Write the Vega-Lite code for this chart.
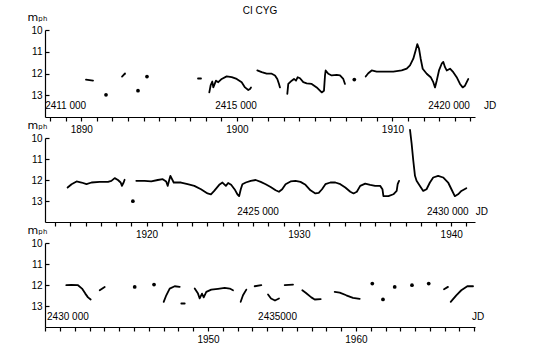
{
  "$schema": "https://vega.github.io/schema/vega-lite/v6.json",
  "background": "white",
  "padding": {"left": 27, "top": 6, "right": 5, "bottom": 5},
  "config": {
    "view": {"stroke": null},
    "font": "Liberation Sans",
    "axis": {"domainColor": "black", "tickColor": "black", "labelColor": "black", "labelFontSize": 10, "labelFont": "Liberation Sans", "grid": false, "domainWidth": 1.2, "tickWidth": 1.2, "labelOverlap": false, "labelFlush": false, "labelBound": false},
    "axisX": {"tickSize": 4, "labelPadding": 3, "labelExpr": "(round((datum.value - 2415020.5) / 365.25) + 1900) % 10 == 0 ? '' + (round((datum.value - 2415020.5) / 365.25) + 1900) : ''"},
    "axisY": {"tickSize": -4, "labelPadding": 7},
    "text": {"font": "Liberation Sans", "fontSize": 10, "color": "black"}
  },
  "spacing": 21,
  "bounds": "flush",
  "datasets": {
    "curves": [
      {"p":1,"s":"1a","jd":2411478,"m":12.28},{"p":1,"s":"1a","jd":2411643,"m":12.33},
      {"p":1,"s":"1b","jd":2412324,"m":12.14},{"p":1,"s":"1b","jd":2412394,"m":12.00},
      {"p":1,"s":"1c","jd":2414108,"m":12.23},{"p":1,"s":"1c","jd":2414178,"m":12.23},
      {"p":1,"s":"1d","jd":2414373,"m":12.87},{"p":1,"s":"1d","jd":2414406,"m":12.53},{"p":1,"s":"1d","jd":2414443,"m":12.37},{"p":1,"s":"1d","jd":2414467,"m":12.64},{"p":1,"s":"1d","jd":2414530,"m":12.33},{"p":1,"s":"1d","jd":2414584,"m":12.40},{"p":1,"s":"1d","jd":2414664,"m":12.25},{"p":1,"s":"1d","jd":2414781,"m":12.13},{"p":1,"s":"1d","jd":2414899,"m":12.17},{"p":1,"s":"1d","jd":2415016,"m":12.25},{"p":1,"s":"1d","jd":2415133,"m":12.40},{"p":1,"s":"1d","jd":2415211,"m":12.64},{"p":1,"s":"1d","jd":2415288,"m":12.76},{"p":1,"s":"1d","jd":2415328,"m":12.71},{"p":1,"s":"1d","jd":2415352,"m":12.64},
      {"p":1,"s":"1e","jd":2415500,"m":11.86},{"p":1,"s":"1e","jd":2415603,"m":11.94},{"p":1,"s":"1e","jd":2415720,"m":12.01},{"p":1,"s":"1e","jd":2415838,"m":12.01},{"p":1,"s":"1e","jd":2415915,"m":12.09},{"p":1,"s":"1e","jd":2415969,"m":12.25},{"p":1,"s":"1e","jd":2416009,"m":12.48},{"p":1,"s":"1e","jd":2416032,"m":12.64},
      {"p":1,"s":"1f","jd":2416204,"m":12.94},{"p":1,"s":"1f","jd":2416227,"m":12.48},{"p":1,"s":"1f","jd":2416307,"m":12.33},{"p":1,"s":"1f","jd":2416361,"m":12.25},{"p":1,"s":"1f","jd":2416408,"m":12.33},{"p":1,"s":"1f","jd":2416448,"m":12.17},{"p":1,"s":"1f","jd":2416502,"m":12.22},{"p":1,"s":"1f","jd":2416579,"m":12.40},{"p":1,"s":"1f","jd":2416659,"m":12.45},{"p":1,"s":"1f","jd":2416777,"m":12.48},{"p":1,"s":"1f","jd":2416894,"m":12.64},{"p":1,"s":"1f","jd":2417011,"m":12.87},{"p":1,"s":"1f","jd":2417065,"m":12.79},{"p":1,"s":"1f","jd":2417089,"m":12.09},{"p":1,"s":"1f","jd":2417105,"m":11.86},{"p":1,"s":"1f","jd":2417166,"m":12.01},{"p":1,"s":"1f","jd":2417246,"m":12.09},{"p":1,"s":"1f","jd":2417363,"m":12.06},{"p":1,"s":"1f","jd":2417441,"m":12.09},{"p":1,"s":"1f","jd":2417518,"m":12.25},{"p":1,"s":"1f","jd":2417558,"m":12.48},
      {"p":1,"s":"1g","jd":2418044,"m":12.14},{"p":1,"s":"1g","jd":2418105,"m":11.99},{"p":1,"s":"1g","jd":2418185,"m":11.86},{"p":1,"s":"1g","jd":2418302,"m":11.91},{"p":1,"s":"1g","jd":2418497,"m":11.91},{"p":1,"s":"1g","jd":2418692,"m":11.91},{"p":1,"s":"1g","jd":2418889,"m":11.86},{"p":1,"s":"1g","jd":2419007,"m":11.78},{"p":1,"s":"1g","jd":2419084,"m":11.63},{"p":1,"s":"1g","jd":2419162,"m":11.32},{"p":1,"s":"1g","jd":2419218,"m":10.93},{"p":1,"s":"1g","jd":2419255,"m":10.65},{"p":1,"s":"1g","jd":2419295,"m":10.85},{"p":1,"s":"1g","jd":2419335,"m":11.32},{"p":1,"s":"1g","jd":2419382,"m":11.78},{"p":1,"s":"1g","jd":2419476,"m":12.01},{"p":1,"s":"1g","jd":2419570,"m":12.17},{"p":1,"s":"1g","jd":2419631,"m":12.40},{"p":1,"s":"1g","jd":2419671,"m":12.64},{"p":1,"s":"1g","jd":2419711,"m":12.33},{"p":1,"s":"1g","jd":2419765,"m":11.86},{"p":1,"s":"1g","jd":2419828,"m":11.55},{"p":1,"s":"1g","jd":2419866,"m":11.47},{"p":1,"s":"1g","jd":2419906,"m":11.71},{"p":1,"s":"1g","jd":2419946,"m":11.86},{"p":1,"s":"1g","jd":2420023,"m":11.78},{"p":1,"s":"1g","jd":2420100,"m":11.94},{"p":1,"s":"1g","jd":2420180,"m":12.17},{"p":1,"s":"1g","jd":2420258,"m":12.48},{"p":1,"s":"1g","jd":2420321,"m":12.64},{"p":1,"s":"1g","jd":2420375,"m":12.56},{"p":1,"s":"1g","jd":2420453,"m":12.25},
      {"p":2,"s":"2a","jd":2420433,"m":12.36},{"p":2,"s":"2a","jd":2420528,"m":12.20},{"p":2,"s":"2a","jd":2420648,"m":12.07},{"p":2,"s":"2a","jd":2420767,"m":12.12},{"p":2,"s":"2a","jd":2420886,"m":12.20},{"p":2,"s":"2a","jd":2421006,"m":12.12},{"p":2,"s":"2a","jd":2421204,"m":12.09},{"p":2,"s":"2a","jd":2421402,"m":12.09},{"p":2,"s":"2a","jd":2421483,"m":12.04},{"p":2,"s":"2a","jd":2421562,"m":11.91},{"p":2,"s":"2a","jd":2421640,"m":12.00},{"p":2,"s":"2a","jd":2421705,"m":12.12},{"p":2,"s":"2a","jd":2421736,"m":12.28},{"p":2,"s":"2a","jd":2421776,"m":12.12},{"p":2,"s":"2a","jd":2421800,"m":11.99},
      {"p":2,"s":"2b","jd":2422080,"m":12.04},{"p":2,"s":"2b","jd":2422278,"m":12.04},{"p":2,"s":"2b","jd":2422438,"m":12.07},{"p":2,"s":"2b","jd":2422595,"m":12.00},{"p":2,"s":"2b","jd":2422714,"m":11.96},{"p":2,"s":"2b","jd":2422796,"m":12.07},{"p":2,"s":"2b","jd":2422834,"m":12.28},{"p":2,"s":"2b","jd":2422874,"m":11.96},{"p":2,"s":"2b","jd":2422898,"m":11.80},{"p":2,"s":"2b","jd":2422977,"m":12.12},{"p":2,"s":"2b","jd":2423153,"m":12.12},{"p":2,"s":"2b","jd":2423311,"m":12.20},{"p":2,"s":"2b","jd":2423471,"m":12.28},{"p":2,"s":"2b","jd":2423631,"m":12.44},{"p":2,"s":"2b","jd":2423788,"m":12.64},{"p":2,"s":"2b","jd":2423870,"m":12.68},{"p":2,"s":"2b","jd":2423948,"m":12.52},{"p":2,"s":"2b","jd":2424068,"m":12.23},{"p":2,"s":"2b","jd":2424146,"m":12.12},{"p":2,"s":"2b","jd":2424228,"m":12.28},{"p":2,"s":"2b","jd":2424282,"m":12.14},{"p":2,"s":"2b","jd":2424354,"m":12.23},{"p":2,"s":"2b","jd":2424449,"m":12.48},{"p":2,"s":"2b","jd":2424504,"m":12.68},{"p":2,"s":"2b","jd":2424545,"m":12.77},{"p":2,"s":"2b","jd":2424585,"m":12.44},{"p":2,"s":"2b","jd":2424624,"m":12.20},{"p":2,"s":"2b","jd":2424705,"m":12.12},{"p":2,"s":"2b","jd":2424824,"m":12.04},{"p":2,"s":"2b","jd":2424943,"m":12.00},{"p":2,"s":"2b","jd":2425063,"m":12.09},{"p":2,"s":"2b","jd":2425182,"m":12.20},{"p":2,"s":"2b","jd":2425301,"m":12.33},{"p":2,"s":"2b","jd":2425421,"m":12.49},{"p":2,"s":"2b","jd":2425500,"m":12.56},{"p":2,"s":"2b","jd":2425578,"m":12.44},{"p":2,"s":"2b","jd":2425659,"m":12.20},{"p":2,"s":"2b","jd":2425779,"m":12.07},{"p":2,"s":"2b","jd":2425898,"m":12.04},{"p":2,"s":"2b","jd":2426017,"m":12.09},{"p":2,"s":"2b","jd":2426137,"m":12.23},{"p":2,"s":"2b","jd":2426256,"m":12.49},{"p":2,"s":"2b","jd":2426375,"m":12.64},{"p":2,"s":"2b","jd":2426454,"m":12.61},{"p":2,"s":"2b","jd":2426533,"m":12.44},{"p":2,"s":"2b","jd":2426614,"m":12.20},{"p":2,"s":"2b","jd":2426733,"m":12.12},{"p":2,"s":"2b","jd":2426853,"m":12.12},{"p":2,"s":"2b","jd":2426972,"m":12.20},{"p":2,"s":"2b","jd":2427091,"m":12.36},{"p":2,"s":"2b","jd":2427211,"m":12.56},{"p":2,"s":"2b","jd":2427289,"m":12.64},{"p":2,"s":"2b","jd":2427368,"m":12.56},{"p":2,"s":"2b","jd":2427449,"m":12.28},{"p":2,"s":"2b","jd":2427569,"m":12.17},{"p":2,"s":"2b","jd":2427688,"m":12.23},{"p":2,"s":"2b","jd":2427807,"m":12.28},{"p":2,"s":"2b","jd":2427927,"m":12.28},{"p":2,"s":"2b","jd":2427982,"m":12.44},{"p":2,"s":"2b","jd":2428005,"m":12.77},{"p":2,"s":"2b","jd":2428125,"m":12.77},{"p":2,"s":"2b","jd":2428244,"m":12.68},{"p":2,"s":"2b","jd":2428323,"m":12.52},{"p":2,"s":"2b","jd":2428347,"m":12.20},{"p":2,"s":"2b","jd":2428380,"m":12.04},
      {"p":2,"s":"2c","jd":2428643,"m":9.61},{"p":2,"s":"2c","jd":2428681,"m":10.26},{"p":2,"s":"2c","jd":2428721,"m":11.07},{"p":2,"s":"2c","jd":2428762,"m":11.80},{"p":2,"s":"2c","jd":2428800,"m":12.04},{"p":2,"s":"2c","jd":2428881,"m":12.28},{"p":2,"s":"2c","jd":2428960,"m":12.52},{"p":2,"s":"2c","jd":2429039,"m":12.44},{"p":2,"s":"2c","jd":2429120,"m":12.12},{"p":2,"s":"2c","jd":2429199,"m":11.88},{"p":2,"s":"2c","jd":2429318,"m":11.80},{"p":2,"s":"2c","jd":2429437,"m":11.88},{"p":2,"s":"2c","jd":2429557,"m":12.12},{"p":2,"s":"2c","jd":2429636,"m":12.44},{"p":2,"s":"2c","jd":2429717,"m":12.77},{"p":2,"s":"2c","jd":2429795,"m":12.68},{"p":2,"s":"2c","jd":2429874,"m":12.52},{"p":2,"s":"2c","jd":2429993,"m":12.39},
      {"p":3,"s":"3a","jd":2429784,"m":12.01},{"p":3,"s":"3a","jd":2429907,"m":12.00},{"p":3,"s":"3a","jd":2430073,"m":12.01},{"p":3,"s":"3a","jd":2430172,"m":12.17},{"p":3,"s":"3a","jd":2430253,"m":12.41},{"p":3,"s":"3a","jd":2430320,"m":12.59},{"p":3,"s":"3a","jd":2430386,"m":12.69},
      {"p":3,"s":"3b","jd":2430609,"m":12.25},{"p":3,"s":"3b","jd":2430732,"m":12.09},
      {"p":3,"s":"3c","jd":2432189,"m":12.80},{"p":3,"s":"3c","jd":2432253,"m":12.49},{"p":3,"s":"3c","jd":2432337,"m":12.17},{"p":3,"s":"3c","jd":2432461,"m":12.06},{"p":3,"s":"3c","jd":2432584,"m":12.09},
      {"p":3,"s":"3d","jd":2432624,"m":12.88},{"p":3,"s":"3d","jd":2432708,"m":12.88},
      {"p":3,"s":"3e","jd":2432955,"m":12.17},{"p":3,"s":"3e","jd":2433036,"m":12.41},{"p":3,"s":"3e","jd":2433078,"m":12.64},{"p":3,"s":"3e","jd":2433135,"m":12.41},{"p":3,"s":"3e","jd":2433177,"m":12.59},{"p":3,"s":"3e","jd":2433241,"m":12.33},{"p":3,"s":"3e","jd":2433364,"m":12.22},{"p":3,"s":"3e","jd":2433530,"m":12.18},{"p":3,"s":"3e","jd":2433695,"m":12.14},{"p":3,"s":"3e","jd":2433819,"m":12.17},{"p":3,"s":"3e","jd":2433900,"m":12.25},
      {"p":3,"s":"3f","jd":2434090,"m":12.80},{"p":3,"s":"3f","jd":2434147,"m":12.49},{"p":3,"s":"3f","jd":2434229,"m":12.22},
      {"p":3,"s":"3g","jd":2434436,"m":12.06},{"p":3,"s":"3g","jd":2434599,"m":12.01},
      {"p":3,"s":"3h","jd":2434765,"m":12.45},{"p":3,"s":"3h","jd":2434839,"m":12.64},{"p":3,"s":"3h","jd":2434937,"m":12.74},{"p":3,"s":"3h","jd":2435036,"m":12.64},
      {"p":3,"s":"3i","jd":2435177,"m":12.01},{"p":3,"s":"3i","jd":2435382,"m":11.98},
      {"p":3,"s":"3j","jd":2435612,"m":12.25},{"p":3,"s":"3j","jd":2435703,"m":12.38},{"p":3,"s":"3j","jd":2435834,"m":12.59},{"p":3,"s":"3j","jd":2435918,"m":12.69},{"p":3,"s":"3j","jd":2436066,"m":12.67},
      {"p":3,"s":"3k","jd":2436412,"m":12.33},{"p":3,"s":"3k","jd":2436535,"m":12.36},{"p":3,"s":"3k","jd":2436698,"m":12.49},{"p":3,"s":"3k","jd":2436863,"m":12.61},{"p":3,"s":"3k","jd":2437029,"m":12.66},
      {"p":3,"s":"3l","jd":2439111,"m":12.20},{"p":3,"s":"3l","jd":2439209,"m":12.09},
      {"p":3,"s":"3m","jd":2439276,"m":12.80},{"p":3,"s":"3m","jd":2439414,"m":12.49},{"p":3,"s":"3m","jd":2439538,"m":12.25},{"p":3,"s":"3m","jd":2439686,"m":12.06},{"p":3,"s":"3m","jd":2439827,"m":12.06}
    ],
    "dots": [
      {"p":1,"jd":2411948,"m":12.98},{"p":1,"jd":2412699,"m":12.79},{"p":1,"jd":2412910,"m":12.14},{"p":1,"jd":2417777,"m":12.28},
      {"p":2,"jd":2421998,"m":13.01},
      {"p":3,"jd":2431473,"m":12.09},{"p":3,"jd":2431950,"m":11.98},{"p":3,"jd":2437340,"m":11.93},{"p":3,"jd":2437604,"m":12.69},{"p":3,"jd":2437893,"m":12.09},{"p":3,"jd":2438320,"m":12.01},{"p":3,"jd":2438733,"m":11.93}
    ],
    "labels": [
      {"p":1,"jd":2411000,"t":"2411 000","a":"c"},{"p":1,"jd":2415000,"t":"2415 000","a":"c"},{"p":1,"jd":2420000,"t":"2420 000","a":"c"},{"p":1,"jd":2420962,"t":"JD","a":"c"},
      {"p":2,"jd":2425000,"t":"2425 000","a":"c"},{"p":2,"jd":2430000,"t":"2430 000","a":"r"},{"p":2,"jd":2430368,"t":"JD","a":"c"},
      {"p":3,"jd":2430000,"t":"2430 000","a":"l"},{"p":3,"jd":2435000,"t":"2435000","a":"c"},{"p":3,"jd":2439950,"t":"JD","a":"c"}
    ]
  },
  "vconcat": [
    {
      "width": 430, "height": 87,
      "title": {"text": "CI CYG", "frame": "group", "anchor": "middle", "offset": -5, "fontSize": 10, "fontWeight": "normal", "font": "Liberation Sans", "color": "black"},
      "encoding": {
        "x": {"field": "jd", "type": "quantitative", "scale": {"domain": [2410516, 2420610], "nice": false, "zero": false},
              "axis": {"title": null, "values": [2410637.5,2411002.75,2411368,2411733.25,2412098.5,2412463.75,2412829,2413194.25,2413559.5,2413924.75,2414290,2414655.25,2415020.5,2415385.75,2415751,2416116.25,2416481.5,2416846.75,2417212,2417577.25,2417942.5,2418307.75,2418673,2419038.25,2419403.5,2419768.75,2420134,2420499.25]}}
      },
      "layer": [
        {"data": {"name": "curves"}, "transform": [{"filter": "datum.p == 1"}],
         "mark": {"type": "line", "color": "black", "strokeWidth": 1.8, "strokeJoin": "round", "strokeCap": "round", "clip": false},
         "encoding": {"detail": {"field": "s"},
           "y": {"field": "m", "type": "quantitative", "scale": {"domain": [10, 14], "reverse": true, "nice": false, "zero": false},
                 "axis": {"title": "mₚₕ", "titleAngle": 0, "titleAlign": "left", "titleBaseline": "alphabetic", "titleX": -18, "titleY": -10, "titleFontSize": 11, "titleFontWeight": "normal", "titleFont": "DejaVu Sans", "titleColor": "black", "values": [10, 11, 12, 13]}}}},
        {"data": {"name": "dots"}, "transform": [{"filter": "datum.p == 1"}],
         "mark": {"type": "point", "filled": true, "color": "black", "size": 14, "opacity": 1},
         "encoding": {
           "y": {"field": "m", "type": "quantitative", "scale": {"domain": [10, 14], "reverse": true, "nice": false, "zero": false},
                 "axis": {"title": "mₚₕ", "titleAngle": 0, "titleAlign": "left", "titleBaseline": "alphabetic", "titleX": -18, "titleY": -10, "titleFontSize": 11, "titleFontWeight": "normal", "titleFont": "DejaVu Sans", "titleColor": "black", "values": [10, 11, 12, 13]}}}},
        {"data": {"name": "labels"}, "transform": [{"filter": "datum.p == 1"}],
         "mark": {"type": "text", "align": "center", "baseline": "middle"},
         "encoding": {"text": {"field": "t"},
           "y": {"datum": 13.5, "type": "quantitative", "scale": {"domain": [10, 14], "reverse": true, "nice": false, "zero": false},
                 "axis": {"title": "mₚₕ", "titleAngle": 0, "titleAlign": "left", "titleBaseline": "alphabetic", "titleX": -18, "titleY": -10, "titleFontSize": 11, "titleFontWeight": "normal", "titleFont": "DejaVu Sans", "titleColor": "black", "values": [10, 11, 12, 13]}}}}
      ]
    },
    {
      "width": 430, "height": 84,
      "encoding": {
        "x": {"field": "jd", "type": "quantitative", "scale": {"domain": [2419891, 2430201], "nice": false, "zero": false},
              "axis": {"title": null, "values": [2420134,2420499.25,2420864.5,2421229.75,2421595,2421960.25,2422325.5,2422690.75,2423056,2423421.25,2423786.5,2424151.75,2424517,2424882.25,2425247.5,2425612.75,2425978,2426343.25,2426708.5,2427073.75,2427439,2427804.25,2428169.5,2428534.75,2428900,2429265.25,2429630.5,2429995.75]}}
      },
      "layer": [
        {"data": {"name": "curves"}, "transform": [{"filter": "datum.p == 2"}],
         "mark": {"type": "line", "color": "black", "strokeWidth": 1.8, "strokeJoin": "round", "strokeCap": "round", "clip": false},
         "encoding": {"detail": {"field": "s"},
           "y": {"field": "m", "type": "quantitative", "scale": {"domain": [10, 14], "reverse": true, "nice": false, "zero": false},
                 "axis": {"title": "mₚₕ", "titleAngle": 0, "titleAlign": "left", "titleBaseline": "alphabetic", "titleX": -18, "titleY": -10, "titleFontSize": 11, "titleFontWeight": "normal", "titleFont": "DejaVu Sans", "titleColor": "black", "values": [10, 11, 12, 13]}}}},
        {"data": {"name": "dots"}, "transform": [{"filter": "datum.p == 2"}],
         "mark": {"type": "point", "filled": true, "color": "black", "size": 14, "opacity": 1},
         "encoding": {
           "y": {"field": "m", "type": "quantitative", "scale": {"domain": [10, 14], "reverse": true, "nice": false, "zero": false},
                 "axis": {"title": "mₚₕ", "titleAngle": 0, "titleAlign": "left", "titleBaseline": "alphabetic", "titleX": -18, "titleY": -10, "titleFontSize": 11, "titleFontWeight": "normal", "titleFont": "DejaVu Sans", "titleColor": "black", "values": [10, 11, 12, 13]}}}},
        {"data": {"name": "labels"}, "transform": [{"filter": "datum.p == 2 && datum.a == 'c'"}],
         "mark": {"type": "text", "align": "center", "baseline": "middle"},
         "encoding": {"text": {"field": "t"},
           "y": {"datum": 13.5, "type": "quantitative", "scale": {"domain": [10, 14], "reverse": true, "nice": false, "zero": false},
                 "axis": {"title": "mₚₕ", "titleAngle": 0, "titleAlign": "left", "titleBaseline": "alphabetic", "titleX": -18, "titleY": -10, "titleFontSize": 11, "titleFontWeight": "normal", "titleFont": "DejaVu Sans", "titleColor": "black", "values": [10, 11, 12, 13]}}}},
        {"data": {"name": "labels"}, "transform": [{"filter": "datum.p == 2 && datum.a == 'r'"}],
         "mark": {"type": "text", "align": "right", "baseline": "middle", "dx": 2},
         "encoding": {"text": {"field": "t"},
           "y": {"datum": 13.5, "type": "quantitative", "scale": {"domain": [10, 14], "reverse": true, "nice": false, "zero": false},
                 "axis": {"title": "mₚₕ", "titleAngle": 0, "titleAlign": "left", "titleBaseline": "alphabetic", "titleX": -18, "titleY": -10, "titleFontSize": 11, "titleFontWeight": "normal", "titleFont": "DejaVu Sans", "titleColor": "black", "values": [10, 11, 12, 13]}}}}
      ]
    },
    {
      "width": 430, "height": 84,
      "encoding": {
        "x": {"field": "jd", "type": "quantitative", "scale": {"domain": [2429258, 2439876], "nice": false, "zero": false},
              "axis": {"title": null, "values": [2429265.25,2429630.5,2429995.75,2430361,2430726.25,2431091.5,2431456.75,2431822,2432187.25,2432552.5,2432917.75,2433283,2433648.25,2434013.5,2434378.75,2434744,2435109.25,2435474.5,2435839.75,2436205,2436570.25,2436935.5,2437300.75,2437666,2438031.25,2438396.5,2438761.75,2439127,2439492.25,2439857.5],
                       "labelExpr": "datum.value > 2430000 && (round((datum.value - 2415020.5) / 365.25) + 1900) % 10 == 0 ? '' + (round((datum.value - 2415020.5) / 365.25) + 1900) : ''"}}
      },
      "layer": [
        {"data": {"name": "curves"}, "transform": [{"filter": "datum.p == 3"}],
         "mark": {"type": "line", "color": "black", "strokeWidth": 1.8, "strokeJoin": "round", "strokeCap": "round", "clip": false},
         "encoding": {"detail": {"field": "s"},
           "y": {"field": "m", "type": "quantitative", "scale": {"domain": [10, 14], "reverse": true, "nice": false, "zero": false},
                 "axis": {"title": "mₚₕ", "titleAngle": 0, "titleAlign": "left", "titleBaseline": "alphabetic", "titleX": -18, "titleY": -10, "titleFontSize": 11, "titleFontWeight": "normal", "titleFont": "DejaVu Sans", "titleColor": "black", "values": [10, 11, 12, 13]}}}},
        {"data": {"name": "dots"}, "transform": [{"filter": "datum.p == 3"}],
         "mark": {"type": "point", "filled": true, "color": "black", "size": 14, "opacity": 1},
         "encoding": {
           "y": {"field": "m", "type": "quantitative", "scale": {"domain": [10, 14], "reverse": true, "nice": false, "zero": false},
                 "axis": {"title": "mₚₕ", "titleAngle": 0, "titleAlign": "left", "titleBaseline": "alphabetic", "titleX": -18, "titleY": -10, "titleFontSize": 11, "titleFontWeight": "normal", "titleFont": "DejaVu Sans", "titleColor": "black", "values": [10, 11, 12, 13]}}}},
        {"data": {"name": "labels"}, "transform": [{"filter": "datum.p == 3 && datum.a == 'c'"}],
         "mark": {"type": "text", "align": "center", "baseline": "middle"},
         "encoding": {"text": {"field": "t"},
           "y": {"datum": 13.5, "type": "quantitative", "scale": {"domain": [10, 14], "reverse": true, "nice": false, "zero": false},
                 "axis": {"title": "mₚₕ", "titleAngle": 0, "titleAlign": "left", "titleBaseline": "alphabetic", "titleX": -18, "titleY": -10, "titleFontSize": 11, "titleFontWeight": "normal", "titleFont": "DejaVu Sans", "titleColor": "black", "values": [10, 11, 12, 13]}}}},
        {"data": {"name": "labels"}, "transform": [{"filter": "datum.p == 3 && datum.a == 'l'"}],
         "mark": {"type": "text", "align": "left", "baseline": "middle", "dx": -28},
         "encoding": {"text": {"field": "t"},
           "y": {"datum": 13.5, "type": "quantitative", "scale": {"domain": [10, 14], "reverse": true, "nice": false, "zero": false},
                 "axis": {"title": "mₚₕ", "titleAngle": 0, "titleAlign": "left", "titleBaseline": "alphabetic", "titleX": -18, "titleY": -10, "titleFontSize": 11, "titleFontWeight": "normal", "titleFont": "DejaVu Sans", "titleColor": "black", "values": [10, 11, 12, 13]}}}}
      ]
    }
  ]
}
